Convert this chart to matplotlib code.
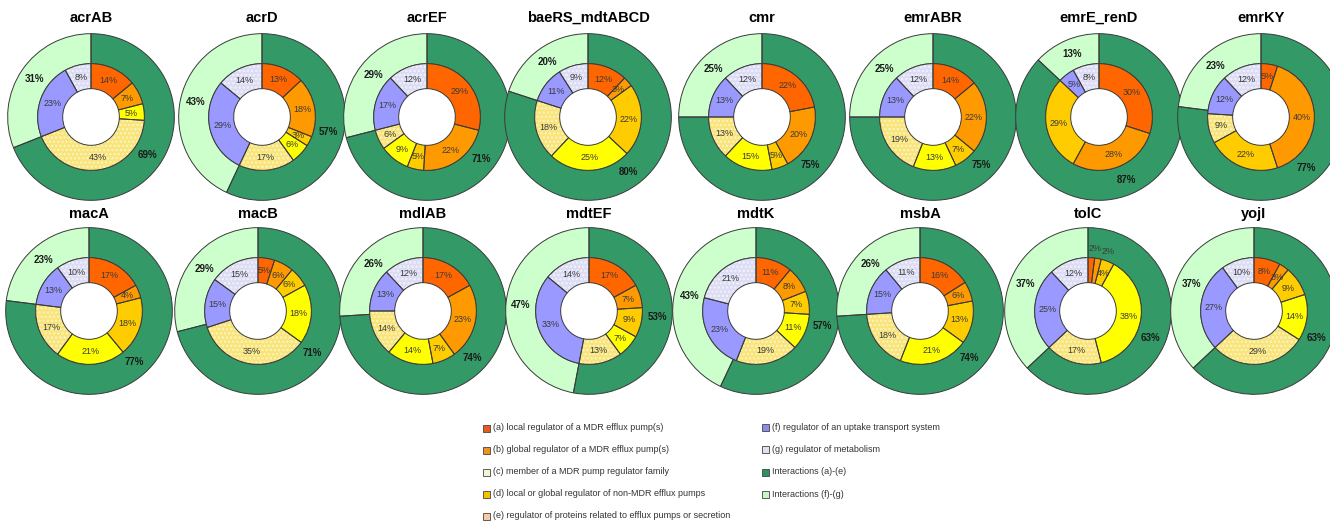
import numpy as np
import matplotlib.pyplot as plt
from matplotlib.patches import Rectangle

plt.rcParams['font.family'] = ['Liberation Sans', 'DejaVu Sans']
plt.rcParams['hatch.linewidth'] = 1.2

W, H = 1330, 527

genes = ['acrAB', 'acrD', 'acrEF', 'baeRS_mdtABCD', 'cmr', 'emrABR', 'emrE_renD', 'emrKY',
         'macA', 'macB', 'mdlAB', 'mdtEF', 'mdtK', 'msbA', 'tolC', 'yojI']

# inner ring shares (%), one list per regulator class
reg_a = [14, 13, 29, 12, 22, 14, 30, 5, 17, 5, 17, 17, 11, 16, 2, 8]
reg_b = [7, 18, 22, 3, 20, 22, 28, 40, 4, 6, 23, 7, 8, 6, 2, 3]
reg_c = [0, 3, 5, 22, 5, 7, 29, 22, 18, 6, 7, 9, 7, 13, 4, 9]
reg_d = [5, 6, 9, 25, 15, 13, 0, 0, 21, 18, 14, 7, 11, 21, 38, 14]
reg_e = [43, 17, 6, 18, 13, 19, 0, 9, 17, 35, 14, 13, 19, 18, 17, 29]
reg_f = [23, 29, 17, 11, 13, 13, 5, 12, 13, 15, 13, 33, 23, 15, 25, 27]
reg_g = [8, 14, 12, 9, 12, 12, 8, 12, 10, 15, 12, 14, 21, 11, 12, 10]

# outer ring shares (%)
inter_ae = [69, 57, 71, 80, 75, 75, 87, 77, 77, 71, 74, 53, 57, 74, 63, 63]
inter_fg = [31, 43, 29, 20, 25, 25, 13, 23, 23, 29, 26, 47, 43, 26, 37, 37]

inner_colors = ['#ff6600', '#ff9900', '#ffcc00', '#ffff00', '#f8e47a', '#9999ff', '#dcdcf4']
inner_dots = [None, None, None, None, '#fdf4bc', None, '#f2f2fc']
outer_colors = ['#339966', '#ccffcc']

legend_left = ['(a) local regulator of a MDR efflux pump(s)',
               '(b) global regulator of a MDR efflux pump(s)',
               '(c) member of a MDR pump regulator family',
               '(d) local or global regulator of non-MDR efflux pumps',
               '(e) regulator of proteins related to efflux pumps or secretion']
legend_left_colors = ['#e85a1e', '#f0921e', '#f4f4d4', '#f0c400', '#f4caa8']
legend_right = ['(f) regulator of an uptake transport system',
                '(g) regulator of metabolism',
                'Interactions (a)-(e)',
                'Interactions (f)-(g)']
legend_right_colors = ['#8c8ce8', '#e0e0f0', '#2e9060', '#c8f4c8']

centers_x = [91, 262, 427, 588, 762, 933, 1099, 1261,
             89, 258, 423, 589, 756, 920, 1088, 1254]
row_y = [117, 311]
title_y = [18, 214]
R = 83  # outer radius in pixels

fig = plt.figure(figsize=(W / 100, H / 100), dpi=100)
fig.patch.set_facecolor('white')


def draw_ring(ax, values, colors, dots, radius, width):
    keep = [i for i, v in enumerate(values) if v > 0]
    vals = [values[i] for i in keep]
    cols = [colors[i] for i in keep]
    wedges, _ = ax.pie(vals, radius=radius, startangle=90, counterclock=False, colors=cols,
                       wedgeprops=dict(width=width, linewidth=0))
    for w, i in zip(wedges, keep):
        if dots[i]:
            w.set_hatch('....')
            w.set_edgecolor(dots[i])
    # outlines drawn on top so the dot colour doesn't touch the borders
    outline, _ = ax.pie(vals, radius=radius, startangle=90, counterclock=False,
                        wedgeprops=dict(width=width, fill=False, edgecolor='#3a3a3a', linewidth=0.7))
    return outline, vals


for k, gene in enumerate(genes):
    row = k // 8
    cx, cy = centers_x[k], row_y[row]
    side = 2 * R + 4
    ax = fig.add_axes([(cx - side / 2) / W, 1 - (cy + side / 2) / H, side / W, side / H])

    outer = [inter_ae[k], inter_fg[k]]
    ow, ovals = draw_ring(ax, outer, outer_colors, [None, None], 1.0, 0.36)
    inner = [reg_a[k], reg_b[k], reg_c[k], reg_d[k], reg_e[k], reg_f[k], reg_g[k]]
    iw, ivals = draw_ring(ax, inner, inner_colors, inner_dots, 0.64, 0.30)

    for w, v in zip(ow, ovals):
        mid = np.deg2rad((w.theta1 + w.theta2) / 2)
        ax.text(0.82 * np.cos(mid), 0.82 * np.sin(mid), f'{v}%', ha='center', va='center',
                fontsize=7, fontweight='bold', color='#1a1a1a')
    for w, v in zip(iw, ivals):
        mid_deg = (w.theta1 + w.theta2) / 2
        r = 0.49
        if v < 3:
            # tiny slices: put the label just outside the inner ring
            r = 0.75
            mid_deg = 90 - (90 - mid_deg) * 1.7
        mid = np.deg2rad(mid_deg)
        ax.text(r * np.cos(mid), r * np.sin(mid), f'{v}%', ha='center', va='center',
                fontsize=6.5, color='#3a3a3a')

    ax.set_xlim(-1.02, 1.02)
    ax.set_ylim(-1.02, 1.02)
    ax.axis('off')

    fig.text(cx / W, 1 - title_y[row] / H, gene, ha='center', va='center',
             fontsize=10.5, fontweight='bold')

# legend, two columns
sw = 7
for i, (lab, col) in enumerate(zip(legend_left, legend_left_colors)):
    y = 428 + 22 * i
    fig.patches.append(Rectangle((483 / W, 1 - (y + sw / 2) / H), sw / W, sw / H,
                                 transform=fig.transFigure, facecolor=col,
                                 edgecolor='#444444', linewidth=0.6))
    fig.text(493 / W, 1 - y / H, lab, ha='left', va='center', fontsize=6.5, color='#333333')
for i, (lab, col) in enumerate(zip(legend_right, legend_right_colors)):
    y = 427 + 22.5 * i
    fig.patches.append(Rectangle((762 / W, 1 - (y + sw / 2) / H), sw / W, sw / H,
                                 transform=fig.transFigure, facecolor=col,
                                 edgecolor='#444444', linewidth=0.6))
    fig.text(772 / W, 1 - y / H, lab, ha='left', va='center', fontsize=6.5, color='#333333')

fig.savefig('out.png', dpi=100, facecolor='white')
